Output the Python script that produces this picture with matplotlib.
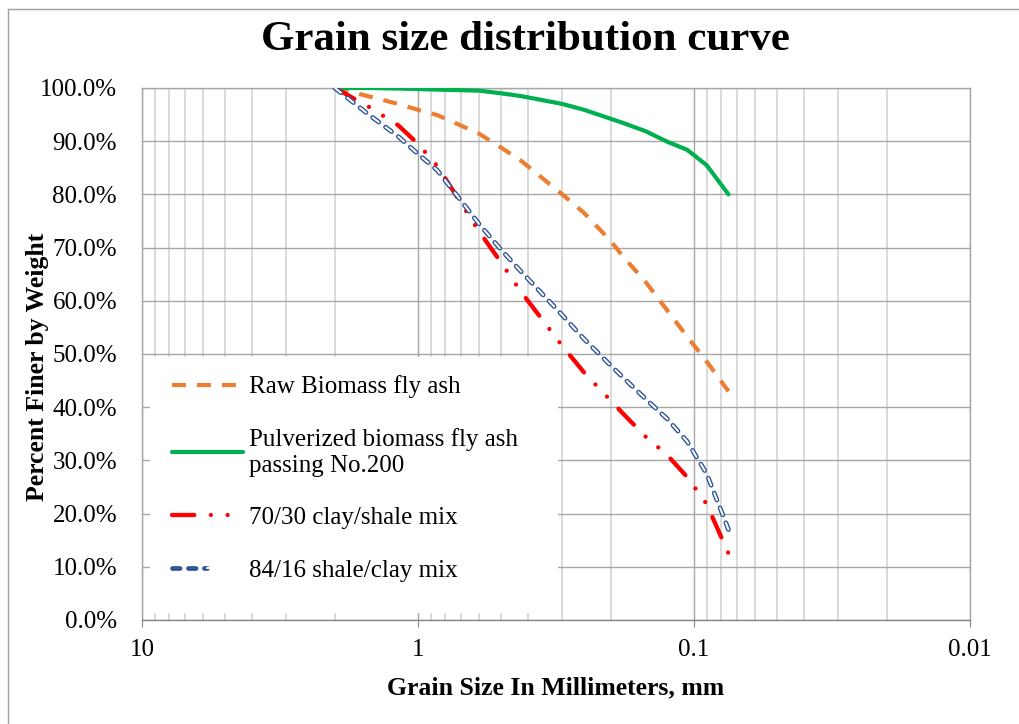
import numpy as np
import matplotlib
matplotlib.use("Agg")
import matplotlib.pyplot as plt
from matplotlib.lines import Line2D
from matplotlib.patches import Rectangle
from matplotlib.legend_handler import HandlerTuple
from matplotlib.ticker import FuncFormatter, LogLocator, FixedLocator

plt.rcParams['font.family'] = ['Liberation Serif', 'DejaVu Serif']
plt.rcParams['lines.scale_dashes'] = False

# grain size (mm) read at the sieve openings
grain_size = [2.0, 1.5, 1.18, 1.0, 0.85, 0.6, 0.5, 0.425, 0.3, 0.25,
              0.2, 0.18, 0.15, 0.125, 0.106, 0.09, 0.075]

# percent finer by weight
raw_ash = [100, 98.4, 97.0, 95.9, 94.9, 91.4, 88.8, 86.4, 80.0, 76.5,
           71.2, 68.2, 63.6, 58.2, 53.3, 48.6, 43.0]
pulverized_ash = [100, 100, 99.9, 99.8, 99.7, 99.5, 99.0, 98.5, 97.0, 95.9,
                  94.2, 93.4, 91.9, 89.9, 88.4, 85.5, 80.0]
clay_shale_70_30 = [100, 96.4, 93.0, 89.5, 85.3, 73.0, 67.2, 61.8, 51.5, 46.5,
                    41.2, 38.7, 34.5, 31.0, 26.9, 21.8, 12.5]
shale_clay_84_16 = [100, 94.9, 90.9, 87.6, 84.5, 74.4, 69.6, 65.6, 57.3, 52.8,
                    47.8, 45.5, 41.6, 37.8, 33.6, 27.5, 17.0]

labels = ["Raw Biomass fly ash",
          "Pulverized biomass fly ash\npassing No.200",
          "70/30 clay/shale mix",
          "84/16 shale/clay mix"]

x_ticks = [10, 1, 0.1, 0.01]
y_ticks = np.arange(0, 101, 10)

fig = plt.figure(figsize=(10.2, 7.24), dpi=100)
ax = fig.add_axes([142 / 1020, 1 - 620 / 724, 828 / 1020, 532 / 724])

ax.set_xscale('log')
ax.set_xlim(10, 0.01)
ax.set_ylim(0, 100)

# grid
ax.xaxis.set_major_locator(FixedLocator(x_ticks))
ax.xaxis.set_minor_locator(LogLocator(base=10, subs=np.arange(2, 10)))
ax.set_yticks(y_ticks)
ax.grid(True, which='major', axis='y', color='#a6a6a6', lw=1.0)
ax.grid(True, which='major', axis='x', color='#a6a6a6', lw=1.0)
ax.grid(True, which='minor', axis='x', color='#cfcfcf', lw=1.1)
ax.set_axisbelow(True)

# white legend area hides the grid
ax.add_patch(Rectangle((0.0097, 0.013), 0.4923, 0.481, transform=ax.transAxes,
                       facecolor='white', edgecolor='none', zorder=1.6))

l1, = ax.plot(grain_size, raw_ash, color='#ED7D31', lw=3.0,
              linestyle=(0, (10, 8)), dash_capstyle='butt', zorder=3)
l2, = ax.plot(grain_size, pulverized_ash, color='#00B050', lw=3.0,
              solid_capstyle='round', solid_joinstyle='round', zorder=3)
l3, = ax.plot(grain_size, clay_shale_70_30, color='#FF0000', lw=3.1,
              linestyle=(0, (16, 12, 0.01, 12, 0.01, 12)),
              dash_capstyle='round', zorder=3)
l4a, = ax.plot(grain_size, shale_clay_84_16, color='#2F5597', lw=3.4,
               linestyle=(0, (5.5, 6)), dash_capstyle='round', zorder=3)
l4b, = ax.plot(grain_size, shale_clay_84_16, color='white', lw=1.4,
               linestyle=(0, (5.5, 6)), dash_capstyle='round', zorder=3.1)

# axes styling
for side in ['top', 'right', 'left']:
    ax.spines[side].set_color('#a6a6a6')
    ax.spines[side].set_linewidth(1.0)
ax.spines['bottom'].set_color('#868686')
ax.spines['bottom'].set_linewidth(1.0)

ax.xaxis.set_major_formatter(FuncFormatter(lambda v, p: '%g' % v))
ax.xaxis.set_minor_formatter(FuncFormatter(lambda v, p: ''))
ax.yaxis.set_major_formatter(FuncFormatter(lambda v, p: '%.1f%%' % v))
ax.tick_params(axis='x', which='major', length=5, color='#868686',
               labelsize=18, pad=9)
ax.tick_params(axis='x', which='minor', length=0)
ax.tick_params(axis='y', length=0, labelsize=18, pad=18)

ax.set_xlabel('Grain Size In Millimeters, mm', fontsize=18.5,
              fontweight='bold', labelpad=11)
ax.set_ylabel('Percent Finer by Weight', fontsize=18.5, fontweight='bold')
ax.yaxis.set_label_coords(-0.112, 0.476)

fig.text(525 / 1020, 1 - 40 / 724, 'Grain size distribution curve',
         fontsize=31, fontweight='bold', ha='center', va='center')

leg = ax.legend([l1, l2, l3, (l4a, l4b)], labels,
                handler_map={tuple: HandlerTuple(ndivide=None, pad=0)},
                loc='upper left', bbox_to_anchor=(0.036, 0.46),
                frameon=False, fontsize=18, borderpad=0, borderaxespad=0,
                handlelength=2.85, handletextpad=0.25, labelspacing=1.2)
leg.set_zorder(4)

# chart area border
fig.add_artist(Line2D([8 / 1020, 8 / 1020], [0, 1 - 9 / 724],
                      transform=fig.transFigure, color='#a0a0a0', lw=1.0))
fig.add_artist(Line2D([8 / 1020, 1], [1 - 9 / 724, 1 - 9 / 724],
                      transform=fig.transFigure, color='#a0a0a0', lw=1.0))

fig.savefig('out.png', dpi=100, facecolor='white')
